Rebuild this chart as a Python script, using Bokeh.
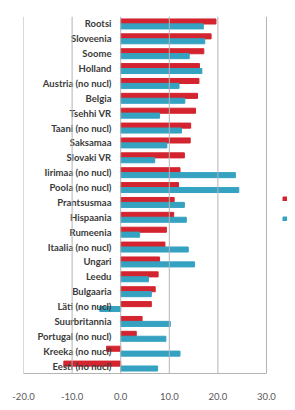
from bokeh.plotting import figure
from bokeh.models import Range1d, FixedTicker, NumeralTickFormatter, ColumnDataSource, Legend, LegendItem, Span
from bokeh.core.properties import value
from bokeh.embed import file_html
from bokeh.resources import INLINE

countries = ["Rootsi", "Sloveenia", "Soome", "Holland", "Austria (no nucl)", "Belgia",
             "Tsehhi VR", "Taani (no nucl)", "Saksamaa", "Slovaki VR", "Iirimaa (no nucl)",
             "Poola (no nucl)", "Prantsusmaa", "Hispaania", "Rumeenia", "Itaalia (no nucl)",
             "Ungari", "Leedu", "Bulgaaria", "Läti (no nucl)", "Suurbritannia",
             "Portugal (no nucl)", "Kreeka (no nucl)", "Eesti (no nucl)"]
series_red = [19.6, 18.6, 17.1, 16.2, 16.1, 15.8, 15.4, 14.4, 14.3, 13.1, 12.2, 11.9,
              11.0, 10.9, 9.4, 9.1, 8.0, 7.7, 7.1, 6.3, 4.4, 3.2, -2.9, -11.7]
series_teal = [17.0, 17.3, 14.1, 16.7, 12.0, 13.2, 8.0, 12.5, 9.5, 7.0, 23.6, 24.3,
               13.1, 13.5, 3.9, 13.9, 15.2, 5.7, 6.3, -4.3, 10.2, 9.3, 12.2, 7.6]
x_ticks = [-20, -10, 0, 10, 20, 30]

n = len(countries)
pos = [n - 1 - i for i in range(n)]
src = ColumnDataSource(dict(
    name=countries,
    y=pos,
    yr=[p + 0.165 for p in pos],
    yt=[p - 0.165 for p in pos],
    red=series_red,
    teal=series_teal,
    lx=[-1.9] * n,
))

RED = "#d3242f"
TEAL = "#35a2c1"
GRID = "#b4b4b4"

W, H = 287, 402
LEFT, TOP, BOTTOM = 23, 16, 22
frame_w = W - LEFT
x_end = -20 + 50 * frame_w / (266 - LEFT)   # 30 sits at page x ~266, legend area beyond

p = figure(width=W, height=H, output_backend="svg", toolbar_location=None,
           x_range=Range1d(-20, x_end), y_range=Range1d(-0.5, n - 0.5),
           min_border_left=LEFT, min_border_right=0, min_border_top=TOP, min_border_bottom=BOTTOM)
p.outline_line_color = None
p.background_fill_color = "white"
p.border_fill_color = "white"

p.xgrid.visible = False
for t in x_ticks:
    p.add_layout(Span(location=t, dimension="height", line_color=GRID, line_width=1))

r1 = p.hbar(y="yr", left=0, right="red", height=0.34, color=RED, source=src)
r2 = p.hbar(y="yt", left=0, right="teal", height=0.34, color=TEAL, source=src)

p.text(x="lx", y="y", text="name", source=src, text_align="right", text_baseline="middle",
       text_font=value("Lato"), text_font_style="bold", text_font_size="9.5px",
       text_color="#3a3a3a")

p.yaxis.visible = False
p.ygrid.visible = False

p.xaxis.ticker = FixedTicker(ticks=x_ticks)
p.xaxis.bounds = (-20, 30)
p.xaxis.formatter = NumeralTickFormatter(format="0.0")
p.xaxis.axis_line_color = GRID
p.xaxis.major_tick_line_color = None
p.xaxis.minor_tick_line_color = None
p.xaxis.major_label_standoff = 13
p.xaxis.major_label_text_font = "Lato"
p.xaxis.major_label_text_font_size = "9.5px"
p.xaxis.major_label_text_color = "#595959"

legend = Legend(items=[LegendItem(label=" ", renderers=[r1]), LegendItem(label=" ", renderers=[r2])],
                location=(259, 152), glyph_width=5, glyph_height=5, spacing=15,
                label_height=5, label_text_font_size="5px", label_text_color="white",
                padding=0, margin=0, label_standoff=0,
                border_line_color=None, background_fill_alpha=0)
p.add_layout(legend, "center")

open("out.html", "w").write(file_html(p, INLINE))
